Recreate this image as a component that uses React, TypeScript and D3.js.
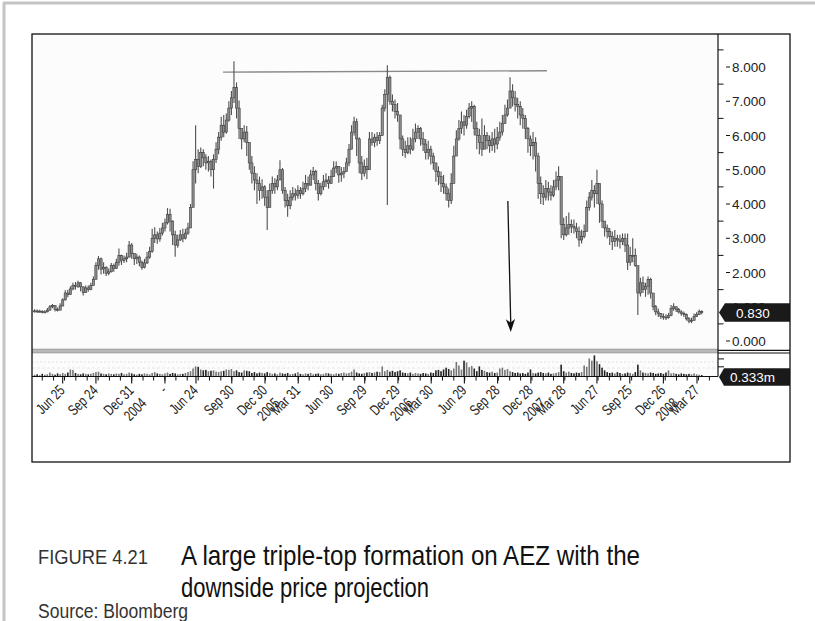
import React from 'react';
import * as d3 from 'd3';

// ---------- DATA ----------
const firstWeek = new Date(2003, 3, 9);

const highs = [
  0.93,0.92,0.91,0.90,0.90,0.96,1.05,1.08,1.04,0.98,1.10,
  1.25,1.48,1.50,1.60,1.70,1.72,1.76,1.72,1.60,1.62,
  1.62,1.70,1.88,2.30,2.48,2.44,2.30,2.18,2.12,2.28,
  2.26,2.40,2.70,2.52,2.50,2.58,2.92,2.86,2.56,2.55,
  2.50,2.35,2.40,2.60,2.75,3.28,3.32,3.20,3.30,3.45,
  3.58,3.88,3.86,3.52,3.22,3.10,3.24,3.28,3.28,3.45,
  4.00,5.25,6.30,5.60,5.65,5.60,5.45,5.40,5.30,5.45,
  5.80,6.10,6.55,6.60,6.64,7.00,7.30,8.17,7.55,7.02,
  6.20,6.30,6.28,5.60,5.40,5.10,4.90,4.80,4.72,4.55,
  4.40,4.60,4.80,4.75,4.85,5.28,5.05,4.50,4.30,4.40,
  4.50,4.45,4.55,4.50,4.65,4.85,4.80,5.00,5.08,5.00,
  4.70,4.62,4.85,4.90,4.82,5.00,5.25,5.24,5.10,5.08,
  5.08,5.35,5.75,6.30,6.55,6.50,5.95,5.40,5.30,5.35,
  6.10,6.10,6.05,6.10,6.10,6.90,7.35,8.05,7.75,7.20,
  7.05,6.95,6.60,6.00,5.85,5.95,5.95,6.20,6.35,6.30,
  6.25,6.10,5.90,5.85,5.70,5.50,5.20,5.10,4.95,4.85,
  4.60,4.45,4.90,5.70,6.15,6.45,6.70,6.60,6.75,6.95,
  7.00,6.90,6.40,6.20,6.50,6.30,6.10,6.00,6.10,6.20,
  6.25,6.40,6.60,6.90,7.05,7.70,7.50,7.30,7.10,7.00,
  6.80,6.60,6.25,6.00,6.10,5.95,5.50,4.80,4.55,4.70,
  4.65,4.55,4.70,4.95,5.10,4.70,3.60,3.65,3.75,3.55,
  3.55,3.45,3.34,3.25,3.40,4.10,4.35,4.70,4.55,5.00,
  4.60,4.10,3.45,3.40,3.30,3.20,3.24,3.10,3.10,3.14,
  3.14,3.14,2.75,3.00,2.70,2.17,1.85,1.88,1.70,1.88,
  1.85,1.30,1.05,0.95,0.82,0.80,0.78,0.82,1.05,1.10,
  1.00,0.96,0.90,0.86,0.80,0.70,0.68,0.80,0.84,0.92,0.90,
];

const lows = [
  0.83,0.82,0.83,0.81,0.82,0.84,0.90,0.96,0.86,0.86,0.92,
  1.06,1.18,1.28,1.34,1.48,1.50,1.55,1.45,1.33,1.40,
  1.44,1.48,1.62,1.80,2.08,1.94,1.96,1.90,1.92,2.00,
  2.02,2.10,2.20,2.22,2.28,2.30,2.44,2.40,2.22,2.25,
  2.18,2.08,2.12,2.25,2.40,2.58,2.86,2.84,2.90,3.08,
  3.20,3.40,3.20,2.80,2.46,2.72,2.92,2.88,2.96,3.10,
  3.30,4.20,4.60,4.90,5.05,5.10,5.00,4.95,4.80,4.45,
  5.20,5.45,5.85,5.95,6.05,6.40,6.60,6.95,6.50,5.90,
  5.60,5.80,5.40,5.00,4.60,4.40,4.00,4.10,4.15,3.95,
  3.24,3.90,4.30,4.30,4.40,4.70,4.30,3.90,3.63,3.85,
  4.10,4.10,4.15,4.15,4.25,4.35,4.40,4.55,4.70,4.40,
  4.10,4.25,4.40,4.50,4.45,4.60,4.80,4.90,4.62,4.65,
  4.75,4.95,5.10,5.60,6.00,5.40,4.90,4.70,4.80,4.72,
  5.60,5.70,5.66,5.70,5.75,6.00,6.70,3.97,6.90,6.70,
  6.50,6.40,5.60,5.40,5.35,5.45,5.45,5.55,5.80,5.90,
  5.70,5.55,5.30,5.30,5.15,5.00,4.65,4.55,4.35,4.30,
  4.10,3.90,4.00,4.80,5.40,5.85,6.05,6.00,6.20,6.50,
  6.40,6.00,5.60,5.45,5.40,5.60,5.60,5.50,5.55,5.50,
  5.60,5.85,6.00,6.35,6.55,6.90,6.85,6.70,6.50,6.30,
  6.20,5.90,5.50,5.40,5.30,4.95,4.15,4.00,3.97,4.10,
  4.10,4.10,4.20,4.40,4.40,3.00,2.95,3.05,3.10,3.15,
  3.14,3.00,2.75,2.85,3.00,3.40,3.80,4.10,3.90,4.00,
  3.45,3.30,3.05,3.00,2.80,2.66,2.75,2.75,2.70,2.80,
  2.60,2.07,2.20,2.30,2.17,0.76,1.30,1.40,1.29,1.35,
  1.24,0.90,0.75,0.70,0.64,0.62,0.61,0.65,0.72,0.88,
  0.85,0.80,0.74,0.70,0.60,0.52,0.52,0.60,0.70,0.76,0.78,
];

const closes = [
  0.88,0.86,0.87,0.84,0.85,0.90,1.00,1.04,0.92,0.90,1.02,
  1.20,1.40,1.36,1.52,1.62,1.60,1.70,1.58,1.42,1.55,
  1.50,1.62,1.80,2.20,2.40,2.10,2.15,1.98,2.02,2.20,
  2.12,2.30,2.50,2.35,2.40,2.45,2.80,2.55,2.40,2.45,
  2.30,2.15,2.28,2.45,2.62,3.00,3.10,2.98,3.15,3.30,
  3.45,3.70,3.50,3.10,2.80,2.95,3.10,3.00,3.15,3.30,
  3.90,5.00,5.30,5.10,5.50,5.35,5.20,5.25,5.00,5.30,
  5.60,5.95,6.30,6.10,6.45,6.80,7.10,7.40,6.80,6.20,
  5.90,6.10,5.80,5.20,4.90,4.70,4.60,4.40,4.50,4.20,
  3.90,4.40,4.60,4.50,4.70,5.00,4.40,4.10,3.95,4.20,
  4.30,4.25,4.40,4.30,4.45,4.60,4.55,4.85,4.95,4.60,
  4.30,4.50,4.65,4.70,4.60,4.80,5.05,5.10,4.85,4.90,
  4.95,5.20,5.60,6.10,6.40,5.90,5.20,4.90,5.10,5.00,
  5.90,5.80,5.95,5.85,6.00,6.80,7.20,7.70,7.00,6.90,
  6.70,6.60,5.90,5.60,5.50,5.70,5.60,5.90,6.10,6.20,
  5.90,5.75,5.50,5.60,5.40,5.20,4.95,4.80,4.60,4.50,
  4.30,4.10,4.60,5.40,5.90,6.20,6.40,6.30,6.55,6.80,
  6.85,6.20,6.00,5.80,5.60,6.00,5.85,5.70,5.90,5.75,
  5.95,6.10,6.35,6.60,6.80,7.30,7.10,6.90,6.85,6.60,
  6.50,6.20,5.90,5.70,5.80,5.40,4.60,4.30,4.20,4.45,
  4.35,4.25,4.50,4.70,4.80,3.40,3.10,3.30,3.40,3.35,
  3.30,3.20,2.95,3.05,3.20,3.90,4.20,4.40,4.30,4.60,
  4.00,3.50,3.30,3.20,3.05,2.90,3.00,2.95,2.90,3.00,
  2.80,2.30,2.50,2.50,2.20,1.40,1.70,1.50,1.60,1.80,
  1.40,1.00,0.85,0.80,0.72,0.70,0.68,0.75,0.95,1.00,
  0.92,0.85,0.80,0.78,0.65,0.58,0.60,0.72,0.78,0.86,0.83,
];

// weekly volume, millions of shares
const volumes = [
  0.4,0.5,0.3,0.6,0.4,0.5,0.9,0.6,0.4,0.7,0.5,
  0.8,0.6,0.9,1.6,1.5,0.8,0.6,0.5,0.7,0.6,
  0.5,0.6,0.8,1.0,1.1,0.7,0.6,0.5,0.7,0.6,
  0.5,0.7,0.6,0.8,0.5,0.6,0.9,0.7,0.5,0.4,
  0.6,0.5,0.7,0.6,0.5,0.8,1.0,0.7,0.6,0.5,
  0.7,0.9,0.6,0.8,0.7,0.5,0.6,0.6,0.8,1.0,
  1.2,1.8,2.3,2.2,1.6,1.4,1.5,1.2,1.3,1.4,
  1.1,1.0,1.2,1.3,1.6,1.5,1.7,1.2,1.4,1.0,
  0.9,1.4,1.3,1.2,0.8,1.0,0.7,0.9,0.8,0.7,
  1.0,0.8,0.6,0.7,0.5,0.9,0.7,0.6,0.8,0.5,
  0.6,0.7,1.0,0.6,0.5,0.7,0.6,0.8,0.5,0.6,
  0.7,0.5,0.6,0.8,0.7,0.6,0.5,0.7,0.6,0.8,
  0.9,0.7,0.8,1.1,1.6,0.9,0.7,0.6,0.8,0.9,
  1.0,0.8,0.9,1.1,1.0,2.3,1.2,1.5,1.1,1.3,
  1.0,1.2,1.4,0.9,0.8,0.7,0.9,0.6,0.8,0.7,
  0.6,0.8,0.7,0.6,0.9,0.8,1.4,1.5,1.2,1.6,
  2.0,1.7,1.4,1.8,3.3,2.5,1.6,3.6,3.2,2.1,
  2.4,1.8,1.2,2.3,1.5,1.3,1.0,0.9,1.1,0.8,
  0.9,1.8,2.0,1.5,1.7,1.2,1.0,0.8,0.9,0.7,
  0.8,0.6,0.9,1.6,0.8,0.7,0.9,1.0,0.8,0.7,
  0.9,0.6,0.7,0.8,1.0,2.7,1.2,0.9,1.1,0.8,
  0.7,0.9,0.8,1.0,2.5,2.2,4.1,3.6,4.8,3.5,
  2.8,2.0,1.4,1.0,0.8,0.9,0.7,1.0,0.8,0.6,
  0.7,0.9,0.8,0.6,1.0,2.7,1.4,0.9,0.8,0.7,
  0.9,0.8,0.6,0.7,0.8,0.6,0.9,1.4,0.7,0.8,
  0.6,0.5,0.7,0.6,0.5,0.6,0.5,0.7,0.5,0.4,0.333,
];

const priceTicks = [0, 1, 2, 3, 4, 5, 6, 7, 8];
const priceMinorTicks = [0.5, 1.5, 2.5, 3.5, 4.5, 5.5, 6.5, 7.5, 8.5];
const volumeMinorTicks = [2.2, 4.0];

const xTickDates = [
  '2003-06-25','2003-09-24','2003-12-31','2004-03-31','2004-06-24','2004-09-30','2004-12-30',
  '2005-03-31','2005-06-30','2005-09-29','2005-12-29','2006-03-30','2006-06-29','2006-09-28',
  '2006-12-28','2007-03-28','2007-06-27','2007-09-25','2007-12-26','2008-03-27',
];
const xTickLabels = [
  'Jun 25','Sep 24','Dec 31','-','Jun 24','Sep 30','Dec 30',
  'Mar 31','Jun 30','Sep 29','Dec 29','Mar 30','Jun 29','Sep 28',
  'Dec 28','Mar 28','Jun 27','Sep 25','Dec 26','Mar 27',
];
const xYearLabels = [
  '', '', '2004', '', '', '', '2005',
  '', '', '', '2006', '', '', '',
  '2007', '', '', '', '2008', '',
];

// annotations: resistance line across the three tops, projection arrow
const resistanceDates = ['2004-09-06', '2007-02-10'];
const resistanceValues = [7.85, 7.89];
const arrowDates = ['2006-10-26', '2006-11-03'];
const arrowValues = [4.09, 0.26];

const lastPriceLabel = '0.830';
const lastVolumeLabel = '0.333m';

const captionNumber = 'FIGURE 4.21';
const captionLines = ['A large triple-top formation on AEZ with the', 'downside price projection'];
const sourceText = 'Source: Bloomberg';

// ---------- LAYOUT ----------
const W = 815;
const H = 621;
const plotL = 32;
const plotR = 718;
const frameR = 790;
const frameT = 34;
const frameB = 462;
const sepY = 351;
const axisY = 376.5;

const parse = d3.timeParse('%Y-%m-%d');

const x = d3
  .scaleTime()
  .domain([parse('2003-06-25') as Date, parse('2008-03-27') as Date])
  .range([62.7, 697]);
const y = d3.scaleLinear().domain([0, 8]).range([341, 67]);
const yv = d3.scaleLinear().domain([0, 5]).range([axisY, axisY - 22]);

const sans = '"Liberation Sans", Arial, Helvetica, sans-serif';

export default function App() {
  const bars = closes.map((c, i) => {
    const date = d3.timeDay.offset(firstWeek, 7 * i);
    const open = i === 0 ? c : closes[i - 1];
    return { date, open, close: c, high: highs[i], low: lows[i], vol: volumes[i] };
  });

  // minor monthly ticks (month ends)
  const monthEnds = d3
    .timeMonth.range(new Date(2003, 3, 1), new Date(2008, 5, 1))
    .map((d) => d3.timeDay.offset(d, -1))
    .filter((d) => x(d) > plotL + 1 && x(d) < plotR - 1);

  const rx0 = x(parse(resistanceDates[0]) as Date);
  const rx1 = x(parse(resistanceDates[1]) as Date);
  const ax0 = x(parse(arrowDates[0]) as Date);
  const ax1 = x(parse(arrowDates[1]) as Date);
  const ay0 = y(arrowValues[0]);
  const ay1 = y(arrowValues[1]);
  const ang = Math.atan2(ay1 - ay0, ax1 - ax0) * 180 / Math.PI - 90;

  const lastY = y(closes[closes.length - 1]);
  const lastVY = axisY + 0.5;

  return (
    <svg
      width={W}
      height={H}
      viewBox={`0 0 ${W} ${H}`}
      style={{ position: 'absolute', left: 0, top: 0, background: '#fff' }}
    >
      <defs>
        <clipPath id="priceClip">
          <rect x={plotL} y={frameT} width={plotR - plotL} height={sepY - 2 - frameT} />
        </clipPath>
      </defs>

      {/* page border */}
      <line x1={3} y1={3} x2={W} y2={3} stroke="#c4c4c4" strokeWidth={3} />
      <line x1={4} y1={3} x2={4} y2={H} stroke="#c4c4c4" strokeWidth={3} />

      {/* plot background */}
      <rect x={plotL} y={frameT} width={plotR - plotL} height={axisY - frameT} fill="#fcfcfc" />

      {/* resistance line */}
      <line
        x1={rx0}
        y1={y(resistanceValues[0])}
        x2={rx1}
        y2={y(resistanceValues[1])}
        stroke="#8a8a8a"
        strokeWidth={1.4}
      />

      {/* price bars */}
      <g clipPath="url(#priceClip)">
        {bars.map((b, i) => {
          const cx = x(b.date);
          const top = y(Math.max(b.open, b.close));
          const bot = y(Math.min(b.open, b.close));
          return (
            <g key={i}>
              <line x1={cx} x2={cx} y1={y(b.high)} y2={y(b.low)} stroke="#4f4f4f" strokeWidth={1.1} />
              <rect
                x={cx - 1.1}
                y={top}
                width={2.2}
                height={Math.max(1, bot - top)}
                fill="#8e8e8e"
                stroke="#3c3c3c"
                strokeWidth={0.6}
              />
            </g>
          );
        })}
      </g>

      {/* projection arrow */}
      <line x1={ax0} y1={ay0} x2={ax1} y2={ay1 - 8} stroke="#111" strokeWidth={1.3} />
      <path
        d="M0,0 L-4.6,-13 L0,-9.5 L4.6,-13 Z"
        transform={`translate(${ax1},${ay1}) rotate(${ang})`}
        fill="#111"
      />

      {/* separator between price and volume panels */}
      <rect x={plotL} y={sepY - 1.8} width={plotR - plotL} height={3.6} fill="#b9b9b9" />
      <line x1={plotL} x2={plotR} y1={sepY - 1.8} y2={sepY - 1.8} stroke="#8f8f8f" strokeWidth={0.8} />
      <line x1={plotL} x2={plotR} y1={sepY + 1.8} y2={sepY + 1.8} stroke="#8f8f8f" strokeWidth={0.8} />
      <line x1={plotR} x2={frameR} y1={sepY - 0.6} y2={sepY - 0.6} stroke="#111" strokeWidth={1.1} />
      <line x1={plotR} x2={frameR} y1={sepY + 2} y2={sepY + 2} stroke="#111" strokeWidth={1.1} />

      {/* faint volume-panel guides */}
      <line x1={plotL} x2={plotR} y1={362} y2={362} stroke="#e2e2e2" strokeWidth={1} strokeDasharray="2,2" />
      <line x1={plotL} x2={plotR} y1={368} y2={368} stroke="#e6e6e6" strokeWidth={1} strokeDasharray="3,2" />

      {/* volume bars */}
      {bars.map((b, i) => {
        const cx = x(b.date);
        return (
          <rect
            key={i}
            x={cx - 0.8}
            y={yv(b.vol)}
            width={1.6}
            height={axisY - yv(b.vol)}
            fill={b.close >= b.open ? '#777' : '#222'}
          />
        );
      })}

      {/* x axis */}
      <line x1={plotL} x2={plotR} y1={axisY} y2={axisY} stroke="#111" strokeWidth={1.2} />
      {monthEnds.map((d, i) => (
        <line key={i} x1={x(d)} x2={x(d)} y1={axisY} y2={axisY + 4} stroke="#111" strokeWidth={1} />
      ))}
      {xTickDates.map((ds, i) => {
        const tx = x(parse(ds) as Date);
        return (
          <g key={ds}>
            <line x1={tx} x2={tx} y1={axisY} y2={axisY + 7} stroke="#111" strokeWidth={1.1} />
            <text
              transform={`translate(${tx + 3},${axisY + 15}) rotate(-45) scale(0.74,1)`}
              textAnchor="end"
              fontFamily={sans}
              fontSize={15}
              fill="#222"
            >
              {xTickLabels[i]}
              {xYearLabels[i] ? (
                <tspan x={0} dy="1.2em">
                  {xYearLabels[i]}
                </tspan>
              ) : null}
            </text>
          </g>
        );
      })}

      {/* right axis */}
      <line x1={plotR} x2={plotR} y1={frameT} y2={axisY} stroke="#111" strokeWidth={1.2} />
      {priceMinorTicks.map((v) => (
        <line key={v} x1={plotR} x2={plotR + 5.5} y1={y(v)} y2={y(v)} stroke="#111" strokeWidth={1} />
      ))}
      {volumeMinorTicks.map((v) => (
        <line key={v} x1={plotR} x2={plotR + 6} y1={yv(v)} y2={yv(v)} stroke="#111" strokeWidth={1} />
      ))}
      {priceTicks.map((v) => (
        <g key={v}>
          <line x1={plotR + 8} x2={plotR + 12} y1={y(v)} y2={y(v)} stroke="#111" strokeWidth={1} />
          <text x={plotR + 14} y={y(v) + 5} fontFamily={sans} fontSize={13.5} fill="#222">
            {d3.format('.3f')(v)}
          </text>
        </g>
      ))}

      {/* last-value flags */}
      <path
        d={`M${plotR + 1},${lastY} L${plotR + 7},${lastY - 9.2} L${frameR},${lastY - 9.2} L${frameR},${lastY + 9.2} L${plotR + 7},${lastY + 9.2} Z`}
        fill="#1a1a1a"
      />
      <text x={plotR + 18} y={lastY + 5} fontFamily={sans} fontSize={13.5} fill="#fff">
        {lastPriceLabel}
      </text>
      <path
        d={`M${plotR + 1},${lastVY} L${plotR + 6},${lastVY - 8.7} L${frameR},${lastVY - 8.7} L${frameR},${lastVY + 8.7} L${plotR + 6},${lastVY + 8.7} Z`}
        fill="#1a1a1a"
      />
      <text x={plotR + 12} y={lastVY + 5} fontFamily={sans} fontSize={13.5} fill="#fff">
        {lastVolumeLabel}
      </text>

      {/* frame */}
      <rect
        x={plotL}
        y={frameT}
        width={frameR - plotL}
        height={frameB - frameT}
        fill="none"
        stroke="#111"
        strokeWidth={1.3}
      />

      {/* caption */}
      <text
        x={38}
        y={564}
        fontFamily={sans}
        fontSize={21}
        fill="#333"
        textLength={110}
        lengthAdjust="spacingAndGlyphs"
      >
        {captionNumber}
      </text>
      <text
        x={181}
        y={565}
        fontFamily={sans}
        fontSize={28}
        fill="#111"
        textLength={459}
        lengthAdjust="spacingAndGlyphs"
      >
        {captionLines[0]}
      </text>
      <text
        x={181}
        y={597}
        fontFamily={sans}
        fontSize={28}
        fill="#111"
        textLength={248}
        lengthAdjust="spacingAndGlyphs"
      >
        {captionLines[1]}
      </text>
      <text
        x={38}
        y={618}
        fontFamily={sans}
        fontSize={20}
        fill="#333"
        textLength={150}
        lengthAdjust="spacingAndGlyphs"
      >
        {sourceText}
      </text>
    </svg>
  );
}
